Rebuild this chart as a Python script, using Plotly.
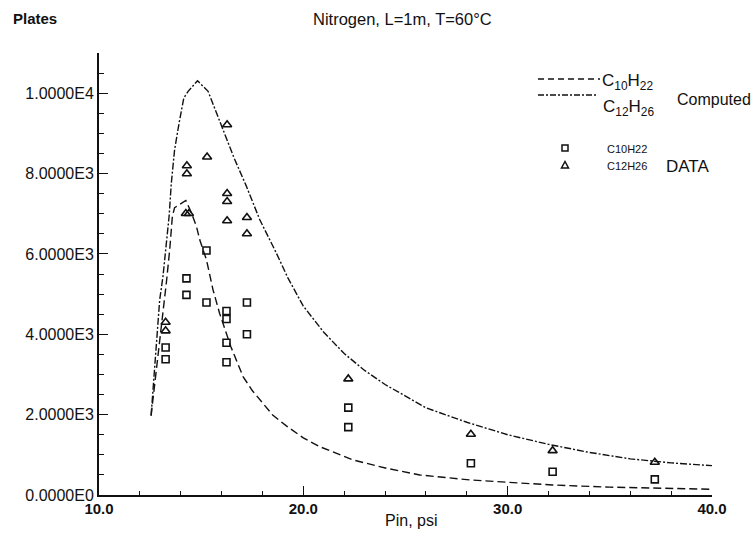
import plotly.graph_objects as go
import math

# Computed curves
x_c10_comp = [12.55, 13.0, 13.3, 13.46, 13.59, 13.7, 14.0, 14.25, 14.5, 14.77, 14.93, 15.26, 15.58, 15.9,
              16.45, 17.05, 17.5, 18.0, 18.5, 19.17, 20.0, 20.8, 22.0, 22.43, 24.07, 25.7, 28.19, 30.0,
              32.19, 35.0, 37.2, 40.0]
y_c10_comp = [1975, 3900, 5300, 6102, 6932, 7150, 7250, 7330, 7050, 6682, 6351, 5853, 5106, 4525,
              3694, 2947, 2600, 2284, 1990, 1720, 1420, 1203, 950, 872, 665, 498, 374, 320,
              249, 195, 166, 142]

x_c12_comp = [12.55, 12.73, 12.86, 12.97, 13.13, 13.3, 13.43, 13.54, 13.7, 13.92, 14.15, 14.36, 14.82,
              15.34, 15.5, 16.07, 16.6, 17.2, 17.87, 18.68, 19.25, 20.0, 21.0, 22.0, 23.0, 24.0, 26.0,
              28.0, 30.0, 32.0, 34.0, 36.0, 38.0, 40.0]
y_c12_comp = [1975, 3196, 4027, 4857, 5437, 6200, 6932, 7763, 8593, 9258, 9880, 10045, 10311,
              10045, 9838, 9091, 8400, 7700, 6849, 6020, 5397, 4700, 4050, 3520, 3100, 2750, 2170,
              1810, 1500, 1260, 1060, 900, 800, 730]

# Measured data
x_c10_data = [13.26, 13.26, 14.28, 14.28, 15.26, 15.26, 16.24, 16.24, 16.24, 16.24, 17.24, 17.24,
              22.2, 22.2, 28.2, 32.2, 37.2]
y_c10_data = [3670, 3380, 5390, 4980, 6085, 4790, 4580, 4380, 3790, 3305, 4790, 4000,
              2175, 1690, 790, 580, 390]

x_c12_data = [13.26, 13.26, 14.3, 14.3, 14.25, 14.4, 15.29, 16.27, 16.27, 16.27, 16.27, 17.24, 17.24,
              22.2, 28.2, 32.2, 37.2]
y_c12_data = [4300, 4085, 8194, 7995, 7006, 7006, 8411, 9215, 7504, 7305, 6824, 6907, 6501,
              2889, 1512, 1104, 814]

x_ticks = [10, 20, 30, 40]
y_ticks = [0, 2000, 4000, 6000, 8000, 10000]


def sci(v):
    if v == 0:
        return "0.0000E0"
    e = int(math.floor(math.log10(abs(v))))
    m = v / 10 ** e
    return f"{m:.4f}E{e}"


FONT = "Liberation Sans, Arial, sans-serif"
BLK = "#111111"

fig = go.Figure()
fig.add_trace(go.Scatter(x=x_c10_comp, y=y_c10_comp, mode="lines",
                         line=dict(color=BLK, width=1.4, dash="8px,4px"), showlegend=False))
fig.add_trace(go.Scatter(x=x_c12_comp, y=y_c12_comp, mode="lines",
                         line=dict(color=BLK, width=1.4, dash="7px,2px,2px,2px"), showlegend=False))
fig.add_trace(go.Scatter(x=x_c10_data, y=y_c10_data, mode="markers",
                         marker=dict(symbol="square-open", size=7, color=BLK, line=dict(width=1.6)),
                         showlegend=False))
fig.add_trace(go.Scatter(x=x_c12_data, y=y_c12_data, mode="markers",
                         marker=dict(symbol="triangle-up-open", size=8, color=BLK, line=dict(width=1.6)),
                         showlegend=False))

L, R, T, B = 99, 43, 53, 39
W, H = 755, 534
pw, ph = W - L - R, H - T - B


def px(x):
    return (x - L) / pw


def py(y):
    return (H - B - y) / ph


shapes = [
    dict(type="line", xref="paper", yref="paper", x0=px(538), x1=px(600), y0=py(79), y1=py(79),
         line=dict(color=BLK, width=1.3, dash="6px,4px")),
    dict(type="line", xref="paper", yref="paper", x0=px(538), x1=px(598), y0=py(95), y1=py(95),
         line=dict(color=BLK, width=1.3, dash="6px,2px,2px,2px")),
    dict(type="rect", xref="paper", yref="paper", x0=px(562), x1=px(568), y0=py(145), y1=py(151),
         line=dict(color=BLK, width=1.5)),
    dict(type="path", xref="paper", yref="paper",
         path=f"M {px(561.5)} {py(168)} L {px(568.5)} {py(168)} L {px(565)} {py(161.5)} Z",
         line=dict(color=BLK, width=1.5)),
]


def ann(text, x, y, size, xanchor="left", bold=False):
    return dict(text=f"<b>{text}</b>" if bold else text, x=px(x), y=py(y), xref="paper", yref="paper",
                xanchor=xanchor, yanchor="middle", showarrow=False,
                font=dict(size=size, family=FONT, color=BLK))


annotations = [
    ann("Plates", 11, 18, 15, bold=True),
    ann("Nitrogen, L=1m, T=60°C", 402, 19, 16.5, xanchor="center"),
    ann("C<sub>10</sub>H<sub>22</sub>", 600, 82, 17),
    ann("C<sub>12</sub>H<sub>26</sub>", 601, 108, 17),
    ann("Computed", 675, 100, 16),
    ann("C10H22", 605, 149, 11),
    ann("C12H26", 605, 166, 11),
    ann("DATA", 664, 166, 17),
    ann("Pin, psi", 411, 520, 16, xanchor="center"),
]

fig.update_layout(
    width=W, height=H,
    margin=dict(l=L, r=R, t=T, b=B, pad=0),
    paper_bgcolor="white", plot_bgcolor="white",
    font=dict(family=FONT, color=BLK, size=14),
    shapes=shapes, annotations=annotations,
    xaxis=dict(range=[10, 40], showgrid=False, zeroline=False, automargin=False,
               showline=True, linecolor=BLK, linewidth=2,
               tickmode="array", tickvals=x_ticks, ticktext=[f"<b>{v:.1f}</b>" for v in x_ticks],
               ticks="inside", ticklen=9, tickwidth=1, tickcolor=BLK, ticklabelstandoff=-1,
               minor=dict(dtick=2, tick0=10, ticks="inside", ticklen=4, tickcolor=BLK, tickwidth=1),
               tickfont=dict(size=15, family=FONT, color=BLK)),
    yaxis=dict(range=[0, 11000], showgrid=False, zeroline=False, automargin=False,
               showline=True, linecolor=BLK, linewidth=2,
               tickmode="array", tickvals=y_ticks, ticktext=[sci(v) for v in y_ticks],
               ticks="inside", ticklen=9, tickwidth=1, tickcolor=BLK,
               minor=dict(dtick=500, tick0=0, ticks="inside", ticklen=5, tickcolor=BLK, tickwidth=1),
               tickfont=dict(size=16, family=FONT, color=BLK)),
)

fig.write_html("out.html")
